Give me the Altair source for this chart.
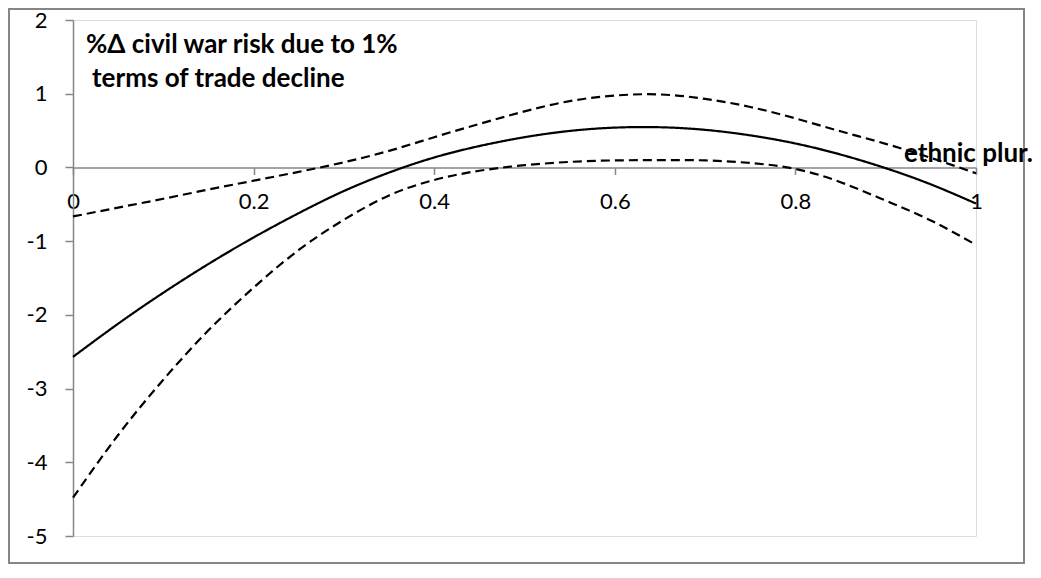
import altair as alt
import pandas as pd

# ---- data ----
x_vals = [0.00, 0.05, 0.10, 0.15, 0.20, 0.25, 0.30, 0.35, 0.40, 0.45, 0.50,
          0.55, 0.60, 0.65, 0.70, 0.75, 0.80, 0.85, 0.90, 0.95, 1.00]
estimate = [-2.57, -2.12, -1.70, -1.31, -0.95, -0.62, -0.32, -0.07, 0.135, 0.29, 0.41,
            0.495, 0.54, 0.545, 0.51, 0.435, 0.325, 0.175, -0.01, -0.23, -0.49]
upper = [-0.665, -0.545, -0.425, -0.30, -0.18, -0.06, 0.07, 0.225, 0.41, 0.59, 0.76,
         0.90, 0.975, 0.99, 0.93, 0.82, 0.665, 0.49, 0.32, 0.13, -0.08]
lower = [-4.48, -3.63, -2.88, -2.21, -1.63, -1.12, -0.71, -0.38, -0.17, -0.045, 0.03,
         0.075, 0.095, 0.10, 0.095, 0.06, -0.02, -0.20, -0.45, -0.72, -1.05]
x_ticks = [0, 0.2, 0.4, 0.6, 0.8, 1]
y_ticks = [-5, -4, -3, -2, -1, 0, 1, 2]
title_lines = ["%\u0394 civil war risk due to 1%", " terms of trade decline"]
x_title = "ethnic plur."

rows = []
for name, ys in [("estimate", estimate), ("upper", upper), ("lower", lower)]:
    for xv, yv in zip(x_vals, ys):
        rows.append({"x": xv, "y": yv, "series": name})
df = pd.DataFrame(rows)

W, H = 903, 516
GRAY = "#868686"
FONT = "Lato"
y_zero = H * 2 / 7

x_axis = alt.Axis(orient="bottom", offset=-(H - y_zero), values=x_ticks,
                  labelExpr="toString(datum.value)",
                  title=None, grid=False, domainColor=GRAY, domainWidth=1.5,
                  tickColor=GRAY, tickWidth=1.5, tickSize=7, labelPadding=17,
                  labelFlush=False, labelFont=FONT, labelFontSize=22, labelColor="black")
y_axis = alt.Axis(orient="left", values=y_ticks, labelExpr="toString(datum.value)",
                  title=None, grid=False,
                  domainColor=GRAY, domainWidth=1.5, tickColor=GRAY, tickWidth=1.5,
                  tickSize=8, labelPadding=18, labelFlush=False, labelFont=FONT,
                  labelFontSize=22, labelColor="black")

border = alt.Chart(alt.Data(values=[{}])).mark_rect(
    fillOpacity=0, stroke=GRAY, strokeWidth=2
).encode(x=alt.value(-64), x2=alt.value(951), y=alt.value(-11), y2=alt.value(543))

lines = alt.Chart(df).mark_line(color="black", strokeWidth=2.2, interpolate="natural").encode(
    x=alt.X("x:Q", scale=alt.Scale(domain=[0, 1], nice=False, zero=False), axis=x_axis),
    y=alt.Y("y:Q", scale=alt.Scale(domain=[-5, 2], nice=False), axis=y_axis),
    strokeDash=alt.StrokeDash("series:N",
                              scale=alt.Scale(domain=["estimate", "upper", "lower"],
                                              range=[[1, 0], [9, 5], [9, 5]]),
                              legend=None),
    detail="series:N",
)

t1 = alt.Chart(alt.Data(values=[{}])).mark_text(
    text=title_lines[0], font=FONT, fontSize=26, fontWeight="bold", align="left",
    baseline="alphabetic", color="black"
).encode(x=alt.value(13), y=alt.value(33))
t2 = alt.Chart(alt.Data(values=[{}])).mark_text(
    text=title_lines[1], font=FONT, fontSize=26, fontWeight="bold", align="left",
    baseline="alphabetic", color="black"
).encode(x=alt.value(19), y=alt.value(67))
t3 = alt.Chart(alt.Data(values=[{}])).mark_text(
    text=x_title, font=FONT, fontSize=26, fontWeight="bold", align="left",
    baseline="alphabetic", color="black"
).encode(x=alt.value(831), y=alt.value(142))

chart = alt.layer(border, lines, t1, t2, t3).properties(
    width=W, height=H,
    autosize=alt.AutoSizeParams(type="none"),
    padding={"left": 65, "top": 12, "right": 57, "bottom": 28},
).configure_view(stroke=None).configure(background="white")

chart.save("out.html", embed_options={"renderer": "svg", "actions": False})
